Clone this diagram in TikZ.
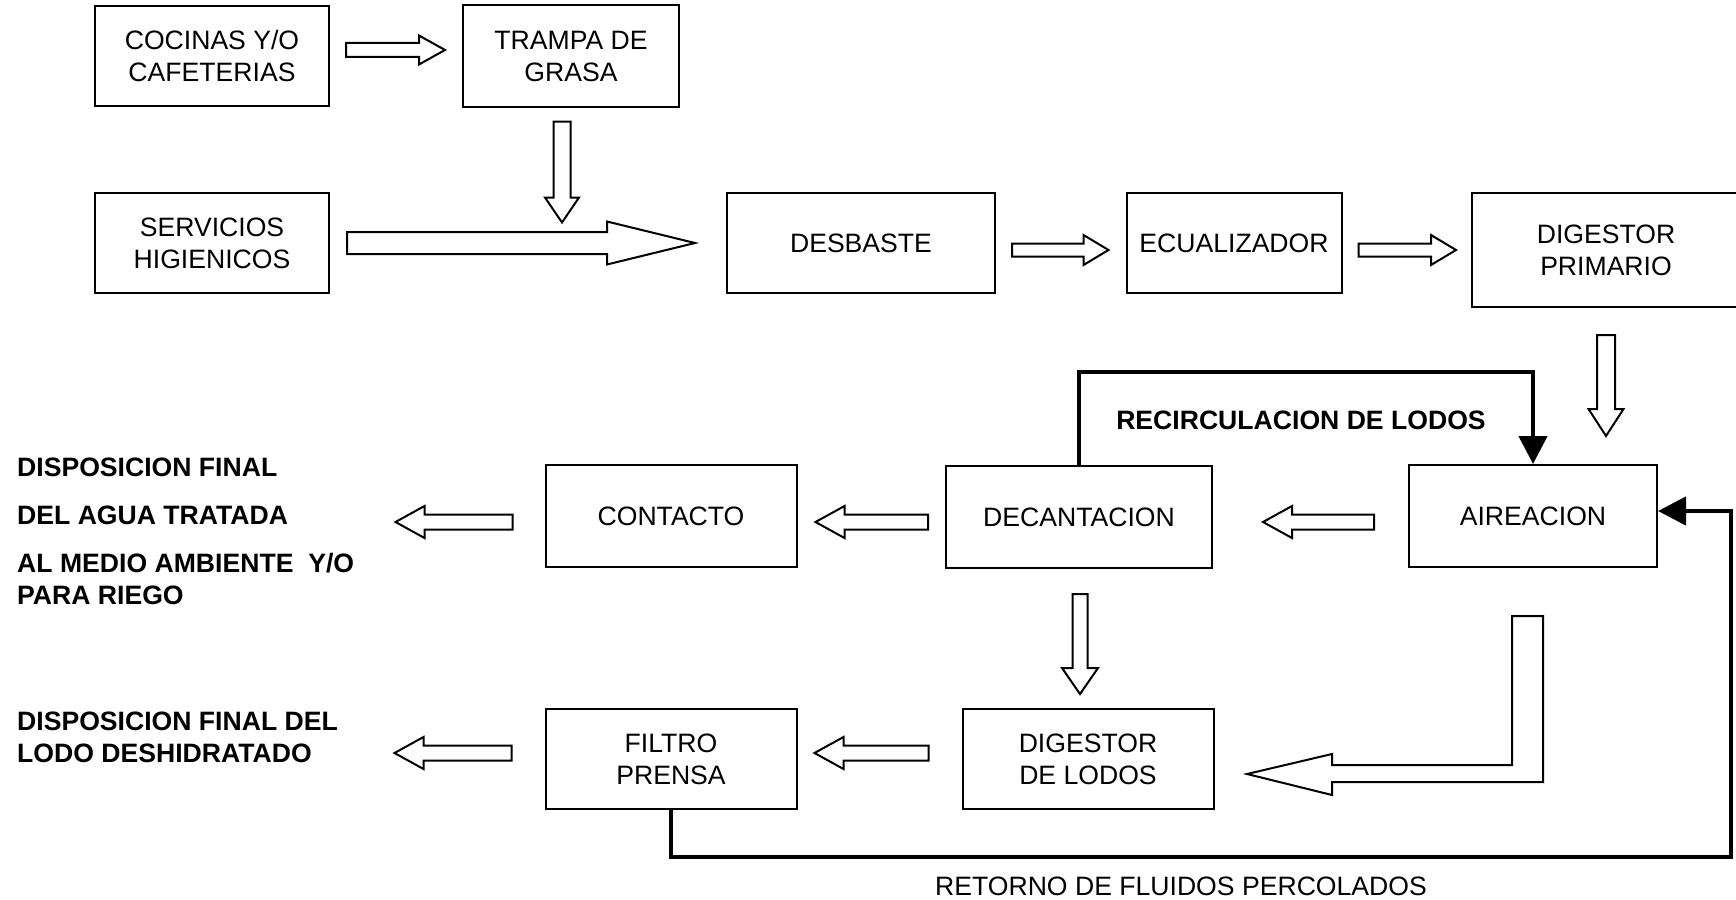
\documentclass[tikz,border=0pt]{standalone}
\usepackage{fontspec}
\setmainfont{Liberation Sans}
\usetikzlibrary{arrows.meta, calc, positioning}
\newcommand{\letra}{\fontsize{26.6}{32}\selectfont}
\tikzset{caja/.style={draw,line width=2pt,align=center,inner sep=0pt,font=\letra},
    hueca/.style={draw,line width=2pt,fill=white,line join=miter},
    retorno/.style={draw,line width=4.5pt,line join=miter,-{Triangle[width=28pt,length=28pt]}},
    rotulo/.style={inner sep=0pt,font=\letra\bfseries},
    leyenda/.style={inner sep=0pt,font=\letra}}
\newcommand{\flecha}[5]{%
    \coordinate (fA) at #1; \coordinate (fB) at #2;
    \coordinate (fH) at ($(fB)!#5pt!(fA)$);
    \path[hueca] ($(fA)!#3pt!90:(fB)$) -- ($(fH)!#3pt!-90:(fA)$) -- ($(fH)!#4pt!-90:(fA)$)
        -- (fB) -- ($(fH)!#4pt!90:(fA)$) -- ($(fH)!#3pt!90:(fA)$) -- ($(fA)!#3pt!-90:(fB)$) -- cycle;}
\begin{document}
\begin{tikzpicture}[x=1pt,y=-1pt]
    \useasboundingbox (0,0) rectangle (1736,899);
    \foreach \pos/\name/\an/\al/\txt in {{(212,56)/coc/234/100/{COCINAS Y/O\\CAFETERIAS}},
        {(571,56)/tra/216/101/{TRAMPA DE\\GRASA}}, {(212,243)/ser/234/100/{SERVICIOS\\HIGIENICOS}},
        {(861,243)/des/268/100/DESBASTE}, {(1234,243)/ecu/215/100/ECUALIZADOR},
        {(1606,250)/dpr/268/114/{DIGESTOR\\PRIMARIO}}, {(1533,516)/air/248/102/AIREACION},
        {(1079,517)/dec/266/102/DECANTACION}, {(671,516)/con/251/102/CONTACTO},
        {(1088,759)/dlo/251/100/{DIGESTOR\\DE LODOS}}, {(671,759)/fil/251/100/{FILTRO\\PRENSA}}}
                \node[caja, minimum width=\an, minimum height=\al] (\name) at \pos {\txt};

    \flecha{($(coc.east)+(16,-6)$)}{($(tra.west)+(-17,-6)$)}{7}{14.5}{26}
    \flecha{($(tra.south)+(-9,14)$)}{($(tra.south)+(-9,115)$)}{8.5}{17}{25}
    \flecha{($(ser.east)+(17,0)$)}{($(des.west)+(-31,0)$)}{11}{21.5}{88}
    \flecha{($(des.east)+(16,7)$)}{($(ecu.west)+(-17,7)$)}{6.5}{15}{25}
    \flecha{($(ecu.east)+(16,7)$)}{($(dpr.west)+(-15,0)$)}{6.5}{15}{25}
    \flecha{($(dpr.south)+(0,27)$)}{($(dpr.south |- air.north)+(0,-28)$)}{9}{17.5}{27}
    \flecha{($(air.west)+(-34,6)$)}{($(dec.east)+(50,5)$)}{7.5}{16}{29}
    \flecha{($(dec.west)+(-17,5)$)}{($(con.east)+(18,6)$)}{7.5}{16}{29}
    \flecha{($(con.west)+(-32,6)$)}{($(con.west)+(-149,6)$)}{7.5}{16}{29}
    \flecha{($(dec.south)+(1,25)$)}{($(dec.south |- dlo.north)+(1,-14)$)}{7.5}{18}{26}
    \flecha{($(dlo.west)+(-33,-6)$)}{($(fil.east)+(17,-6)$)}{7.5}{16}{29}
    \flecha{($(fil.west)+(-33,-6)$)}{($(fil.west)+(-150,-6)$)}{7.5}{16}{29}

    \coordinate (codo) at ($(air.south)+(10,214)$);
    \path[hueca] (codo) -- ++(0,-166) -- ++(-31,0) -- ++(0,149) -- ++(-180,0) -- ++(0,-11)
        -- ++(-85,20) -- ++(85,21) -- ++(0,-13) -- cycle;

    \draw[retorno] (dec.north) -- ++(0,-93) -| (air.north);
    \draw[retorno] (fil.south) -- ++(0,47) -| ($(air.east)+(73,-5)$) -- ($(air.east)+(0,-5)$);

    \node[rotulo] (recirc) at (1301,420) {RECIRCULACION DE LODOS};
    \node[leyenda] (perc) at (1181,886) {RETORNO DE FLUIDOS PERCOLADOS};
    \node[rotulo, anchor=north west, align=left] (agua) at (17,458) {DISPOSICION FINAL\\[16pt]
        DEL AGUA TRATADA\\[16pt] AL MEDIO AMBIENTE\ \ Y/O\\ PARA RIEGO};
    \node[rotulo, anchor=north west, align=left] (lodo) at (17,712) {DISPOSICION FINAL DEL\\
        LODO DESHIDRATADO};
\end{tikzpicture}
\end{document}
